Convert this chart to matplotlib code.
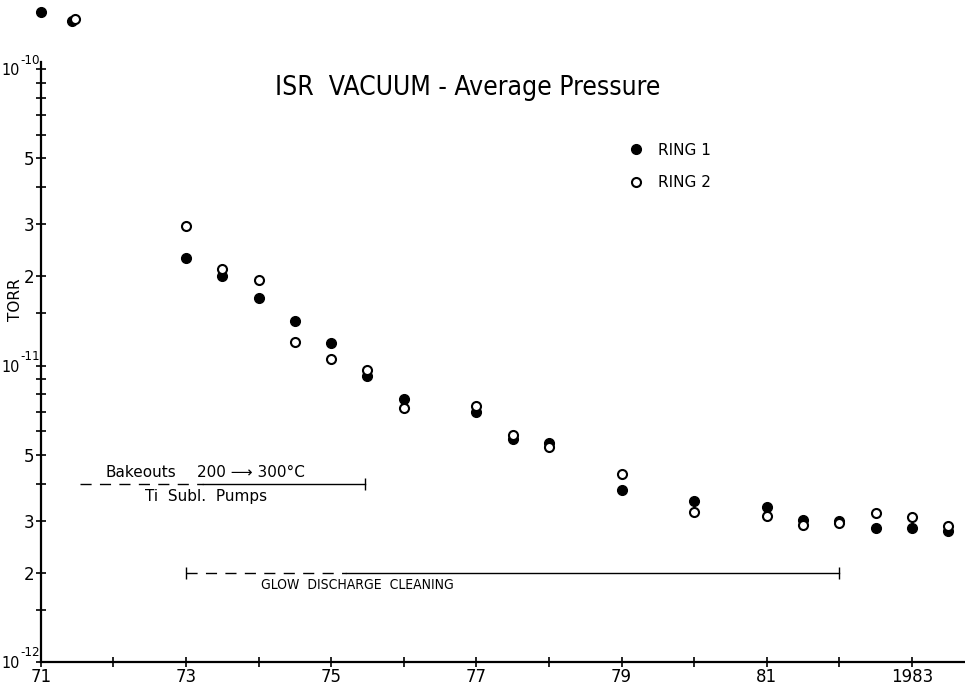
import numpy as np
import matplotlib
matplotlib.use("Agg")
from matplotlib import pyplot as plt
from matplotlib.ticker import FixedLocator, FuncFormatter

plt.rcParams['font.family'] = ['DejaVu Sans']

# average pressure (torr) per half-year
years_ring1 = [71.0, 71.43, 73.0, 73.5, 74.0, 74.5, 75.0, 75.5, 76.0, 77.0, 77.5, 78.0,
               79.0, 80.0, 81.0, 81.5, 82.0, 82.5, 83.0, 83.5]
ring1 = [1.56e-10, 1.45e-10, 2.30e-11, 2.00e-11, 1.69e-11, 1.41e-11, 1.19e-11, 9.2e-12,
         7.7e-12, 7.0e-12, 5.67e-12, 5.5e-12, 3.81e-12, 3.50e-12, 3.34e-12, 3.02e-12,
         3.00e-12, 2.84e-12, 2.84e-12, 2.77e-12]
years_ring2 = [71.47, 73.0, 73.5, 74.0, 74.5, 75.0, 75.5, 76.0, 77.0, 77.5, 78.0,
               79.0, 80.0, 81.0, 81.5, 82.0, 82.5, 83.0, 83.5]
ring2 = [1.48e-10, 2.96e-11, 2.12e-11, 1.95e-11, 1.20e-11, 1.05e-11, 9.7e-12, 7.2e-12,
         7.3e-12, 5.85e-12, 5.32e-12, 4.32e-12, 3.21e-12, 3.12e-12, 2.90e-12, 2.95e-12,
         3.19e-12, 3.09e-12, 2.88e-12]

year_ticks = list(range(71, 84))
year_labels = ['71', '', '73', '', '75', '', '77', '', '79', '', '81', '', '1983']
decades = [-12, -11, -10]

# periods shown under the data: (start, end of dashed part, end)
bakeout_period = (71.54, 73.24, 75.47)
glow_period = (73.0, 75.2, 82.0)

fig = plt.figure(figsize=(9.65, 6.89), dpi=100)
ax = fig.add_axes([0.0422, 0.0392, 0.9578, 0.871])
ax.set_yscale('log')
ax.set_xlim(71, 83.73)
ax.set_ylim(1e-12, 1e-12 * 10 ** 2.025)

for s in ['top', 'right']:
    ax.spines[s].set_visible(False)
for s in ['left', 'bottom']:
    ax.spines[s].set_linewidth(1.6)

ax.plot(years_ring1, ring1, 'o', color='black', ms=7, clip_on=False, zorder=3, label='RING 1')
ax.plot(years_ring2, ring2, 'o', mfc='white', mec='black', mew=1.5, ms=6.5, clip_on=False,
        zorder=4, label='RING 2')

ax.set_xticks(year_ticks)
ax.set_xticklabels(year_labels)
ax.tick_params(axis='x', direction='inout', length=7, width=1.2, labelsize=12, pad=1)

# decade labels drawn by hand (10 with a small exponent), like the drawing
ax.yaxis.set_major_locator(FixedLocator([10.0 ** e for e in decades]))
ax.yaxis.set_major_formatter(FuncFormatter(lambda v, p: ''))
minor = [m * 10.0 ** e for e in decades[:-1] for m in (1.5, 2, 3, 4, 5, 6, 7, 8, 9)]
ax.yaxis.set_minor_locator(FixedLocator(minor))
ax.yaxis.set_minor_formatter(FuncFormatter(
    lambda v, p: '%d' % round(v / 10 ** np.floor(np.log10(v) + 1e-9))
    if round(v / 10 ** np.floor(np.log10(v) + 1e-9), 1) in (2, 3, 5) else ''))
ax.tick_params(axis='y', which='both', direction='inout', length=7, width=1.2, pad=1,
               labelsize=12)
ytr = ax.get_yaxis_transform()
for e in decades:
    ax.annotate('10', xy=(0, 10.0 ** e), xycoords=ytr, xytext=(-14.8, -1),
                textcoords='offset points', ha='right', va='center', fontsize=11.5,
                fontstretch='condensed')
    ax.annotate(str(e), xy=(0, 10.0 ** e), xycoords=ytr, xytext=(-14.3, 6.5),
                textcoords='offset points', ha='left', va='center', fontsize=9.5,
                fontstretch='condensed')

ax.legend(loc='upper left', bbox_to_anchor=(0.628, 0.878), frameon=False, fontsize=11,
          handlelength=1, handletextpad=0.9, labelspacing=1.15, borderpad=0, numpoints=1)

ax.text(0.462, 0.957, 'ISR  VACUUM - Average Pressure', transform=ax.transAxes,
        ha='center', va='center', fontsize=19, fontstretch='condensed')
fig.text(15 / 965, 1 - 300 / 689, 'TORR', rotation=90, ha='center', va='center', fontsize=11)

# bakeout / sublimation pump period
yb = 4.0e-12
ax.plot(bakeout_period[:2], [yb, yb], color='black', lw=1, dashes=(8, 6))
ax.plot(bakeout_period[1:], [yb, yb], color='black', lw=1)
ax.plot([bakeout_period[2]], [yb], '|', color='black', ms=8)
ax.text(71.89, 4.12e-12, 'Bakeouts', fontsize=11, va='bottom')
ax.text(73.15, 4.12e-12, '200 \u27f6 300\u00b0C', fontsize=11, va='bottom')
ax.text(72.44, 3.61e-12, 'Ti  Subl.  Pumps', fontsize=11, va='center')

# glow discharge period
yg = 2.0e-12
ax.plot(glow_period[:2], [yg, yg], color='black', lw=1, dashes=(8, 6))
ax.plot(glow_period[1:], [yg, yg], color='black', lw=1)
ax.plot([glow_period[0], glow_period[2]], [yg, yg], '|', color='black', ms=9)
ax.text(75.36, 1.82e-12, 'GLOW  DISCHARGE  CLEANING', fontsize=10, ha='center', va='center',
        fontstretch='condensed')

fig.savefig('out.png', dpi=100)
plt.close(fig)
